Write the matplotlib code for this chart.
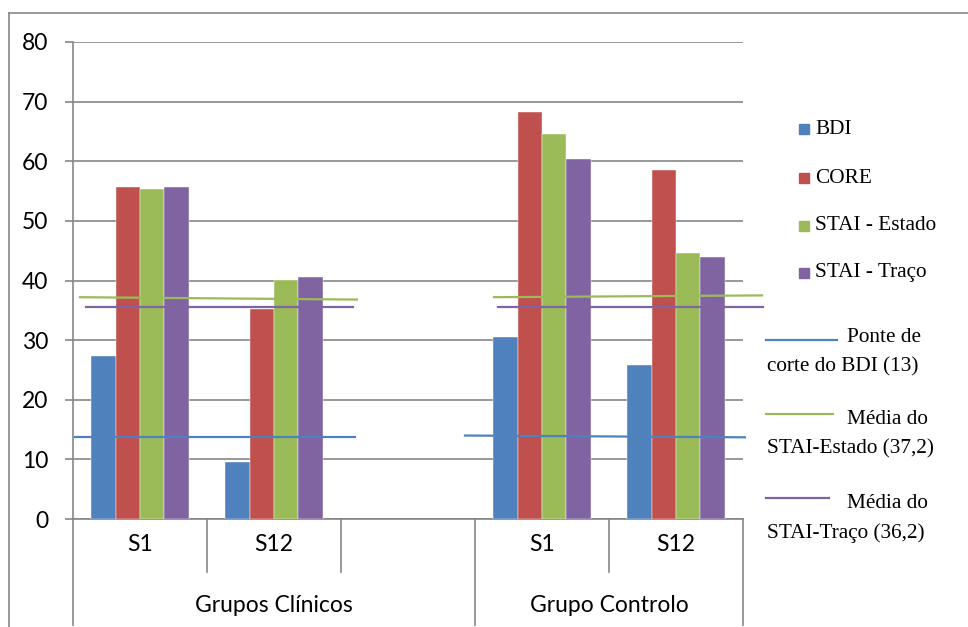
import matplotlib.pyplot as plt
import numpy as np
from matplotlib.lines import Line2D
from matplotlib.patches import Rectangle

# Data
categories = ['S1', 'S12', '', 'S1', 'S12']
groups = ['Grupos Clínicos', 'Grupo Controlo']
group_centers = [1.0, 3.5]
series_names = ['BDI', 'CORE', 'STAI - Estado', 'STAI - Traço']
bdi = [27.4, 9.5, np.nan, 30.6, 25.8]
core = [55.7, 35.3, np.nan, 68.3, 58.5]
stai_estado = [55.3, 40.1, np.nan, 64.5, 44.6]
stai_traco = [55.7, 40.6, np.nan, 60.4, 43.9]
colors = ['#4F81BD', '#C0504D', '#9BBB59', '#8064A2']

# reference lines (drawn as segments over each group)
ref_names = ['Ponte de\ncorte do BDI (13)', 'Média do\nSTAI-Estado (37,2)', 'Média do\nSTAI-Traço (36,2)']
ref_colors = ['#4F81BD', '#9BBB59', '#8064A2']
ref_x = [[(-0.485, 1.604), (2.425, 4.515)],
         [(-0.448, 1.619), (2.642, 4.642)],
         [(-0.403, 1.590), (2.672, 4.649)]]
ref_y = [[(13.7, 13.7), (14.0, 13.7)],
         [(37.2, 36.8), (37.2, 37.5)],
         [(35.5, 35.5), (35.5, 35.5)]]

W, H = 968, 627
fig = plt.figure(figsize=(W / 100, H / 100), dpi=100)
ax = fig.add_axes([73 / W, 1 - 519 / H, 670 / W, 477 / H])

grey = '#868686'
x = np.arange(len(categories))
bw = 0.181
values = [bdi, core, stai_estado, stai_traco]
for i, (vals, c) in enumerate(zip(values, colors)):
    ax.bar(x + (i - 1.5) * bw, vals, bw, color=c, edgecolor='white', linewidth=0.3, zorder=3)

for xs_list, ys_list, c in zip(ref_x, ref_y, ref_colors):
    for xs, ys in zip(xs_list, ys_list):
        ax.plot(xs, ys, color=c, linewidth=1.6, zorder=4, clip_on=False)

ax.set_xlim(-0.5, 4.5)
ax.set_ylim(0, 80)
ax.set_yticks(range(0, 81, 10))
ax.yaxis.grid(True, color=grey, linewidth=1.2, zorder=0)
ax.set_axisbelow(True)
for s in ['top', 'right']:
    ax.spines[s].set_visible(False)
for s in ['left', 'bottom']:
    ax.spines[s].set_color(grey)
    ax.spines[s].set_linewidth(1.2)
ax.tick_params(axis='y', length=6, width=1.2, color=grey, labelsize=16.5, pad=12)
for lab in ax.get_yticklabels():
    lab.set_fontfamily('Lato')
ax.set_xticks([])

# multi-level category axis
trans = ax.get_xaxis_transform()
for b in [0.5, 1.5, 3.5]:
    ax.plot([b, b], [0, -0.111], color=grey, linewidth=1.2, transform=trans, clip_on=False)
for b in [-0.5, 2.5, 4.5]:
    ax.plot([b, b], [0, -0.222], color=grey, linewidth=1.2, transform=trans, clip_on=False)
for xi, lab in zip(x, categories):
    ax.text(xi, -0.0545, lab, transform=trans, ha='center', va='center', fontsize=16.5, family='Lato')
for gc, g in zip(group_centers, groups):
    ax.text(gc, -0.182, g, transform=trans, ha='center', va='center', fontsize=16.5, family='Lato')

# chart area border (cropped at right and bottom)
fig.add_artist(Line2D([9 / W, 1], [1 - 13 / H, 1 - 13 / H], color=grey, linewidth=1.2))
fig.add_artist(Line2D([9 / W, 9 / W], [0, 1 - 13 / H], color=grey, linewidth=1.2))

# legend drawn by hand to match the layout
serif = 'Liberation Serif'
fs = 15.3
leg_y = [129, 178, 226, 273]
for name, c, yy in zip(series_names, colors, leg_y):
    fig.add_artist(Rectangle((799 / W, 1 - (yy + 5) / H), 10 / W, 10 / H, color=c))
    fig.text(815 / W, 1 - yy / H, name, ha='left', va='center', fontsize=fs, family=serif)

line_y = [340, 414, 498]
first_y = [337, 420, 504]
second_y = [367, 449, 533]
line_end = [837, 833, 829]
for name, c, ly, fy, sy, le in zip(ref_names, ref_colors, line_y, first_y, second_y, line_end):
    first, second = name.split('\n')
    fig.add_artist(Line2D([766 / W, le / W], [1 - ly / H, 1 - ly / H], color=c, linewidth=1.6))
    fig.text(847 / W, 1 - fy / H, first, ha='left', va='center', fontsize=fs, family=serif)
    fig.text(767 / W, 1 - sy / H, second, ha='left', va='center', fontsize=fs, family=serif)

fig.savefig('out.png', dpi=100)
